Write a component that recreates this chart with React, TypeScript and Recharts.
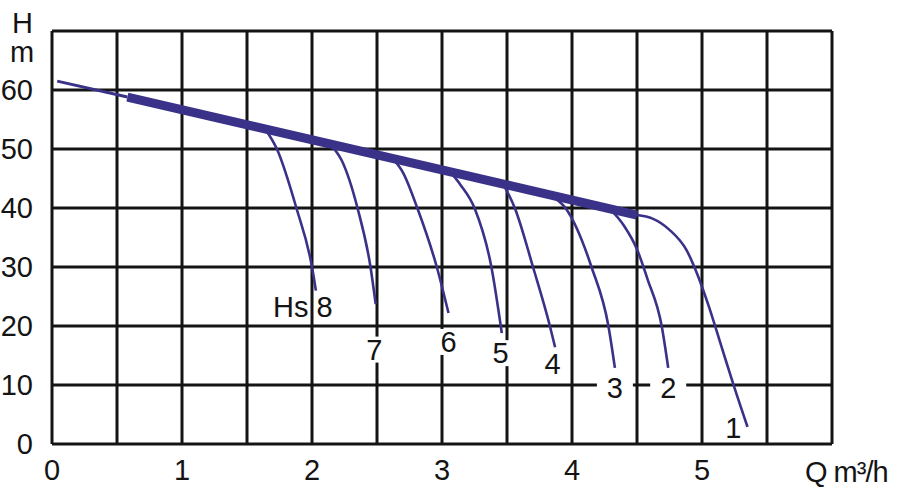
import React from 'react';
import { LineChart, Line, XAxis, YAxis, CartesianGrid, ReferenceDot } from 'recharts';

const FONT = '"Liberation Sans", Arial, Helvetica, sans-serif';
const INK = '#141414';
const CURVE = '#3a3288';

// axis ticks
const qTicks = [0, 0.5, 1, 1.5, 2, 2.5, 3, 3.5, 4, 4.5, 5, 5.5, 6];
const hTicks = [0, 10, 20, 30, 40, 50, 60, 70];

// head line of the pump range
const leadIn = [
  { q: 0.04, h: 61.5 },
  { q: 0.58, h: 58.8 },
];
const envelope = [
  { q: 0.58, h: 58.8 },
  { q: 4.5, h: 38.8 },
];

// one curve for each Hs setting
const hs8 = [
  { q: 1.64, h: 53.4 },
  { q: 1.73, h: 50 },
  { q: 1.88, h: 40 },
  { q: 2.0, h: 30 },
  { q: 2.03, h: 26 },
];
const hs7 = [
  { q: 2.14, h: 50.8 },
  { q: 2.23, h: 48 },
  { q: 2.35, h: 40 },
  { q: 2.45, h: 30 },
  { q: 2.49, h: 23.7 },
];
const hs6 = [
  { q: 2.62, h: 48.4 },
  { q: 2.7, h: 46 },
  { q: 2.81, h: 40 },
  { q: 2.96, h: 30 },
  { q: 3.05, h: 22.2 },
];
const hs5 = [
  { q: 3.06, h: 46.2 },
  { q: 3.14, h: 44 },
  { q: 3.25, h: 40 },
  { q: 3.38, h: 30 },
  { q: 3.46, h: 18.8 },
];
const hs4 = [
  { q: 3.47, h: 44.1 },
  { q: 3.56, h: 40 },
  { q: 3.7, h: 30 },
  { q: 3.83, h: 20 },
  { q: 3.87, h: 16.4 },
];
const hs3 = [
  { q: 3.83, h: 42.2 },
  { q: 3.95, h: 40 },
  { q: 4.15, h: 30 },
  { q: 4.28, h: 20 },
  { q: 4.33, h: 12.9 },
];
const hs2 = [
  { q: 4.29, h: 39.9 },
  { q: 4.4, h: 37 },
  { q: 4.5, h: 33 },
  { q: 4.58, h: 28 },
  { q: 4.69, h: 20 },
  { q: 4.74, h: 12.9 },
];
const hs1 = [
  { q: 4.5, h: 38.8 },
  { q: 4.62, h: 38.2 },
  { q: 4.75, h: 36.3 },
  { q: 4.88, h: 32.9 },
  { q: 4.96, h: 29 },
  { q: 5.05, h: 23.5 },
  { q: 5.15, h: 16.5 },
  { q: 5.25, h: 9.5 },
  { q: 5.35, h: 2.9 },
];
const curves = [hs8, hs7, hs6, hs5, hs4, hs3, hs2, hs1];

// curve names, placed near the end of each curve
const tagText = ['Hs 8', '7', '6', '5', '4', '3', '2', '1'];
const tagQ = [1.93, 2.48, 3.05, 3.45, 3.85, 4.33, 4.74, 5.24];
const tagH = [23.2, 16.0, 17.3, 15.4, 13.6, 9.5, 9.5, 2.7];
const boxedTags = ['7', '6', '5', '3', '2'];

const Tag = ({ cx, cy, text }: { cx?: number; cy?: number; text: string }) => {
  if (cx == null || cy == null) return null;
  const boxed = boxedTags.includes(text);
  const w = text.length * 16 + 20;
  return (
    <g>
      {boxed && <rect x={cx - w / 2} y={cy - 13} width={w} height={26} fill="#fff" />}
      <text
        x={cx}
        y={cy}
        dy="0.355em"
        textAnchor="middle"
        fontFamily={FONT}
        fontSize={29}
        fill={INK}
      >
        {text}
      </text>
    </g>
  );
};

const tickStyle = { fontFamily: FONT, fontSize: 29, fill: INK };

export default function App() {
  return (
    <div style={{ position: 'absolute', left: 0, top: 0, width: 900, height: 492, background: '#fff' }}>
      <LineChart width={900} height={492} margin={{ top: 31, right: 68, left: 0, bottom: 0 }}>
        <CartesianGrid stroke={INK} strokeWidth={3} />
        <XAxis
          type="number"
          dataKey="q"
          domain={[0, 6]}
          ticks={qTicks}
          interval={0}
          height={48}
          axisLine={false}
          tickLine={false}
          tickSize={0}
          tickMargin={15}
          tick={tickStyle}
          tickFormatter={(v: number) => (Number.isInteger(v) && v <= 5 ? String(v) : '')}
          allowDataOverflow
        />
        <YAxis
          type="number"
          domain={[0, 70]}
          ticks={hTicks}
          interval={0}
          width={52}
          axisLine={false}
          tickLine={false}
          tickSize={0}
          tickMargin={19}
          tick={tickStyle}
          tickFormatter={(v: number) => (v < 70 ? String(v) : '')}
          allowDataOverflow
        />
        <Line
          data={leadIn}
          dataKey="h"
          type="linear"
          stroke={CURVE}
          strokeWidth={3}
          dot={false}
          isAnimationActive={false}
        />
        {curves.map((c, i) => (
          <Line
            key={`hs-${i}`}
            data={c}
            dataKey="h"
            type="monotone"
            stroke={CURVE}
            strokeWidth={2.6}
            dot={false}
            isAnimationActive={false}
          />
        ))}
        <Line
          data={envelope}
          dataKey="h"
          type="linear"
          stroke={CURVE}
          strokeWidth={9}
          dot={false}
          isAnimationActive={false}
        />
        {tagText.map((t, i) => (
          <ReferenceDot
            key={`tag-${i}`}
            x={tagQ[i]}
            y={tagH[i]}
            r={0}
            ifOverflow="visible"
            shape={(p: any) => <Tag cx={p.cx} cy={p.cy} text={t} />}
          />
        ))}
      </LineChart>
      <svg
        width={900}
        height={492}
        style={{ position: 'absolute', left: 0, top: 0, pointerEvents: 'none' }}
      >
        <text x={12} y={33} fontFamily={FONT} fontSize={29} fill={INK}>H</text>
        <text x={10} y={62} fontFamily={FONT} fontSize={29} fill={INK}>m</text>
        <text x={805} y={482} fontFamily={FONT} fontSize={29} fill={INK} letterSpacing={-1}>
          Q m³/h
        </text>
      </svg>
    </div>
  );
}
